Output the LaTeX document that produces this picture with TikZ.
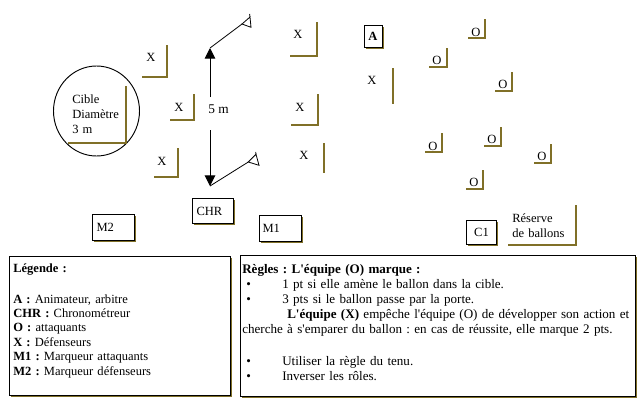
\documentclass[tikz,border=0pt]{standalone}
\usepackage{fontspec}
\setmainfont{Liberation Serif}
\usetikzlibrary{arrows.meta,shadows,shapes.geometric}
\definecolor{olv}{RGB}{128,112,40}
\frenchspacing
\begin{document}
\begin{tikzpicture}[x=0.75pt,y=-0.75pt,
  lbl/.style={font=\fontsize{9.4}{11.25}\selectfont, inner sep=0pt},
  frm/.style={draw=olv, line width=0.8pt},
  boxs/.style={draw=black, line width=0.75pt, fill=white, inner sep=0pt,
    drop shadow={shadow xshift=1.3pt, shadow yshift=-1.3pt, fill=olv, opacity=1},
    font=\fontsize{9.4}{11.25}\selectfont},
  pole/.style={line width=0.6pt},
  gatearrow/.style={line width=0.75pt, -{Triangle[width=8pt,length=8pt]}},
  ]
\useasboundingbox (0,0) rectangle (640,401);
% target circle
\node[draw, ellipse, line width=0.7pt, minimum width=64.5pt, minimum height=67.5pt, inner sep=0pt] (cible) at (96.5,111) {};
\node[lbl, anchor=base west, text width=45pt, align=left] (cibletxt) at (72,103) {Cible\\Diamètre\\3 m};
\draw[frm] (126,86) -- (126,143) -- (68,143);
% player frames
\foreach \n/\t/\cx/\cy/\rx/\ty/\by/\lx in {
  x1/X/151/57/167/45/77/142, x2/X/179/107/194/94/120/170, x3/X/162/161/178/148/177/154,
  x4/X/298/34/317/22/56/290, x5/X/300/107/318/94/125/291, x6/X/304/155/324/143/173/324,
  x7/X/372/80/393/68/104/393,
  o1/O/476/32/485/19/38/468, o2/O/437/60/447/48/67/429, o3/O/503/84/512/72/91/495,
  o4/O/433/146/442/133/152/425, o5/O/492/139/501/127/146/484, o6/O/542/156/551/144/163/534,
  o7/O/474/182/483/170/189/466}{
  \node[lbl] (\n) at (\cx,\cy) {\t};
  \draw[frm] (\rx,\ty) -- (\rx,\by) -- (\lx,\by);
}
% goal and gate
\coordinate (gT) at (210,48);
\coordinate (gB) at (210,186);
\coordinate (a1) at (210,97);
\coordinate (a2) at (210,130);
\node[lbl, font=\fontsize{10}{12}\selectfont] (five) at (218.5,109) {5 m};
\draw[gatearrow] (a1) -- (gT);
\draw[gatearrow] (a2) -- (gB);
\coordinate (f1) at (242,24);
\coordinate (f2) at (248.3,162);
\draw[pole] (gT) -- (f1);
\draw[pole] (f1) -- (250,17) -- (251,27.3) -- cycle;
\draw[pole] (250,17) -- (249.6,14);
\draw[pole] (gB) -- (f2);
\draw[pole] (f2) -- (256,154.3) -- (259,165.3) -- cycle;
\draw[pole] (256,154.3) -- (255.7,152);
% boxes
\node[boxs, minimum width=13.5pt, minimum height=16.5pt, font=\fontsize{9.4}{11.25}\selectfont\bfseries] (A) at (373,36) {A};
\node[boxs, anchor=north west, minimum height=18.75pt, text width=24.75pt, inner xsep=3pt, align=left] (chr) at (192,198) {CHR};
\node[boxs, anchor=north west, minimum height=19.5pt, text width=25.5pt, inner xsep=3pt, align=left] (m2) at (92,214) {M2};
\node[boxs, anchor=north west, minimum height=19.5pt, text width=27pt, inner xsep=2.25pt, align=left] (m1) at (259,215) {M1};
\node[boxs, anchor=north west, minimum width=22.5pt, minimum height=18pt] (c1) at (466,220) {C1};
\node[lbl, anchor=base west, text width=50pt, align=left] (reserve) at (512,222) {Réserve\\de ballons};
\draw[frm] (576,205) -- (576,245) -- (508,245);
% legend
\node[boxs, anchor=north west, minimum width=165.75pt, minimum height=104.25pt] (legbox) at (9,256) {};
\node[lbl, anchor=base west, text width=160pt, align=left, font=\fontsize{9.4}{10.8}\selectfont] (legtext) at (13,272) {%
\textbf{Légende :}\\[12.45pt]
\textbf{A :} Animateur, arbitre\\
\textbf{CHR :} Chronométreur\\
\textbf{O :} attaquants\\
\textbf{X :} Défenseurs\\
\textbf{M1 :} Marqueur attaquants\\
\textbf{M2 :} Marqueur défenseurs};
% rules
\node[boxs, anchor=north west, minimum width=296.25pt, minimum height=105.75pt] (rulebox) at (240,255) {};
\node[lbl, anchor=base west, text width=294pt, align=left, font=\fontsize{9.8}{11.25}\selectfont] (ruletext) at (242,273) {%
\textbf{Règles : L\textquotesingle équipe (O) marque :}\\
\makebox[30pt][l]{\hspace{3pt}\textbullet}1 pt si elle amène le ballon dans la cible.\\
\makebox[30pt][l]{\hspace{3pt}\textbullet}3 pts si le ballon passe par la porte.\\
\hspace*{33.75pt}\textbf{L\textquotesingle équipe (X)} empêche l\textquotesingle équipe (O) de développer son action et\\
cherche à s\textquotesingle emparer du ballon : en cas de réussite, elle marque 2 pts.\\[13pt]
\makebox[30pt][l]{\hspace{3pt}\textbullet}Utiliser la règle du tenu.\\
\makebox[30pt][l]{\hspace{3pt}\textbullet}Inverser les rôles.};
\end{tikzpicture}
\end{document}
